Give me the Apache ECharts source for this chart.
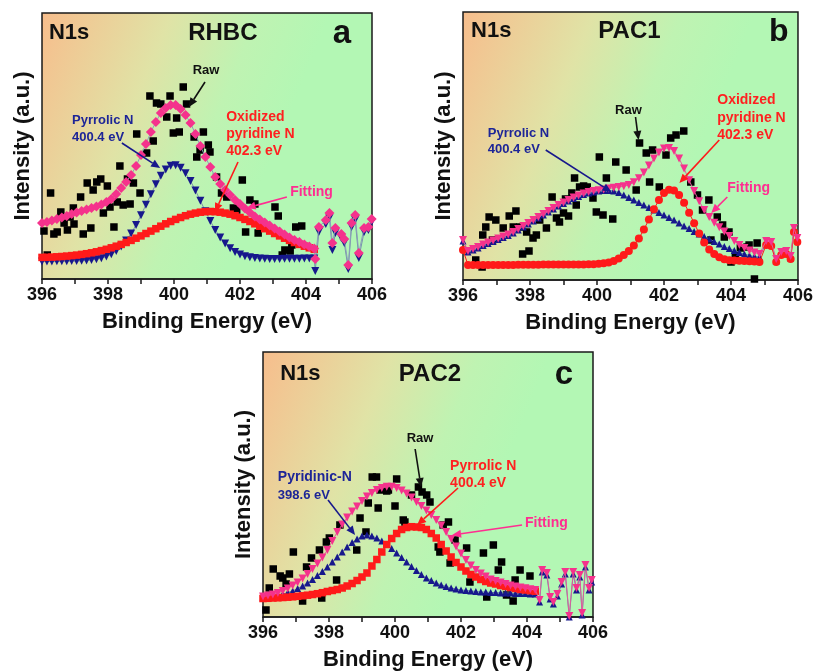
<!DOCTYPE html>
<html>
<head>
<meta charset="utf-8">
<title>N1s XPS spectra – RHBC, PAC1, PAC2</title>
<script src="https://cdn.jsdelivr.net/npm/echarts@6/dist/echarts.min.js"></script>
<style>
  html, body { margin: 0; padding: 0; background: #ffffff; }
  #main { width: 816px; height: 672px; }
</style>
</head>
<body>
<div id="main"></div>
<script>
// ---------------- data ----------------
const tickLabels = ['396', '398', '400', '402', '404', '406'];

// binding energy grid (eV) used by the fitted curves
const fitEnergy = [396.00,396.15,396.30,396.45,396.60,396.75,396.90,397.05,397.20,397.35,397.50,397.65,397.80,397.95,398.10,398.25,398.40,398.55,398.70,398.85,399.00,399.15,399.30,399.45,399.60,399.75,399.90,400.05,400.20,400.35,400.50,400.65,400.80,400.95,401.10,401.25,401.40,401.55,401.70,401.85,402.00,402.15,402.30,402.45,402.60,402.75,402.90,403.05,403.20,403.35,403.50,403.65,403.80,403.95,404.10,404.25,404.40,404.55,404.70,404.85];

// (a) RHBC
const aRawEnergy = [396.06,396.16,396.26,396.36,396.46,396.57,396.67,396.77,396.85,396.95,396.97,397.17,397.25,397.37,397.48,397.55,397.66,397.78,397.86,397.98,398.06,398.18,398.28,398.36,398.46,398.59,398.67,398.77,398.87,398.97,399.17,399.27,399.37,399.47,399.60,399.78,399.88,399.98,400.08,400.16,400.28,400.38,400.61,400.69,400.79,400.89,401.04,401.09,401.29,401.44,401.60,401.80,401.90,402.07,402.17,402.30,402.45,402.55,403.06,403.16,403.28,403.36,403.52,403.57,403.69,403.87];
const aRawCounts = [48,24,86,45,47,67,56,49,62,71,55,82,45,96,51,89,97,100,66,93,72,52,77,113,74,100,75,96,145,86,126,183,138,176,175,162,183,146,161,147,192,175,142,122,129,147,134,127,102,86,82,71,69,99,47,79,75,46,72,63,24,29,28,34,52,53];
const aPyrrolic = [17.5,17.6,17.6,17.7,17.7,17.8,17.9,17.9,18.2,18.5,19.0,19.7,20.8,22.4,24.8,28.1,32.6,38.4,45.5,54.1,63.8,74.2,84.7,94.7,103.2,109.6,113.2,113.8,111.2,105.8,98.0,88.6,78.2,67.8,58.1,49.1,41.6,35.5,30.7,27.0,24.5,22.7,21.7,20.9,20.5,20.3,20.1,20.1,20.1,20.2,20.2,20.3,20.3,20.4,20.5,20.5];
const aOxidized = [21.6,21.7,21.9,22.2,22.5,22.9,23.4,23.9,24.6,25.3,26.2,27.2,28.4,29.7,31.2,32.8,34.6,36.5,38.6,40.8,43.1,45.5,47.9,50.3,52.8,55.2,57.5,59.6,61.5,63.3,64.8,65.9,66.8,67.3,67.5,67.3,66.8,65.9,64.8,63.3,61.5,59.6,57.5,55.2,52.8,50.3,47.9,45.5,43.1,40.8,38.6,36.5,34.6,32.8,31.2,29.7];
const aFit = [56,57,58.5,60,61.5,63,65,66.5,68,69.5,71,72.5,74.5,77,80,85,91,97,104,113,124,135,147,157,166,171,174,174,170,164,156,145,133,122,112,102,95,89,84,79,75,70.5,66.5,62.5,59.5,56.5,53.5,50.5,47.5,44.5,41.5,39,37,34.5,32.5,30.5];
const aTailEnergy = [404.28,404.39,404.60,404.71,404.80,404.89,405.07,405.16,405.28,405.38,405.49,405.60,405.76,405.89,405.99];
const aTailFit = [20,52,59,66,36,51,45,40,14,56,64,26,51,52,60];
const aTailPyrrolic = [8,47,55,61,29,46,41,36,10,52,59,21,47,49,57];

// (b) PAC1
const bRawEnergy = [396.38,396.57,396.59,396.68,396.78,396.88,396.98,397.20,397.38,397.50,397.58,397.70,397.78,397.90,397.97,398.09,398.19,398.29,398.49,398.66,398.79,398.88,399.00,399.06,399.15,399.25,399.33,399.38,399.48,399.60,399.71,399.88,399.98,400.07,400.18,400.28,400.47,400.56,400.87,401.17,401.27,401.47,401.57,401.66,401.86,402.06,402.20,402.36,402.59,402.80,403.00,403.15,403.34,403.40,403.59,403.75,403.80,403.94,404.00,404.13,404.28,404.48,404.54,404.70,404.78];
const bRawCounts = [20,13,45,53,63,40,60,52,64,53,69,53,26,48,29,42,45,60,52,83,62,58,67,81,64,87,102,75,93,94,93,82,68,123,65,102,61,118,110,90,137,127,98,130,93,125,142,145,149,98,85,70,80,40,63,55,43,48,18,25,32,33,35,1,37];
const bPyrrolic = [39,28,30,32,34.5,36.5,38.5,40.5,42.5,44.5,47,50,53,56,59,62,65,68,71,74,76.5,79,81.5,83.5,85.5,87,88,89,89.5,89.5,89,87.5,85,82.5,80,77.5,75,72.5,70,67.5,65,62.5,60,57,54,51.5,48.5,46,43.5,41,38.5,36,33.5,31.5,29.5,27.5,26,24.5,23.5,23];
const bOxidized = [30,15,15,15,15,15,15,15,15,15,15,15.2,15.2,15.3,15.3,15.3,15.4,15.4,15.4,15.5,15.5,15.5,15.5,15.5,15.6,15.7,15.8,16.2,16.7,17.5,19,21.5,25,29,34.5,41.5,50.5,60.5,70.8,80.1,86.9,90.3,89.6,85,77.2,67.3,56.8,46.5,37.6,30.4,26,22.8,20.8,19.8,19.5,19.2,19,18.8,18.5,18];
const bFit = [40,29,31,33,35.5,37.5,39.5,41.5,43.5,45.5,48,51,54,57,60,63,66,69,72,75,77.5,80,82.5,84.5,86.5,88,89,89.7,90.6,91.4,92.3,93,93.8,95,97.7,101.7,107.6,114.4,121.4,127.6,131.4,132.1,128.9,121.6,111.4,99.7,88.9,78.8,70.1,62.9,57.3,52.8,48.4,44,39,35,32,29.5,27.5,26];
const bTailEnergy = [405.05,405.20,405.35,405.50,405.65,405.78,405.88,405.98];
const bTailFit = [39,38,21,28,29,24,52,42];
const bTailPyrrolic = [37,36,19,26,27,22,50,40];
const bTailOxidized = [35,34,18,25,26,21,48,38];

// (c) PAC2
const cRawEnergy = [396.09,396.19,396.31,396.52,396.60,396.70,396.80,396.92,397.20,397.32,397.47,397.71,397.78,397.92,398.01,398.23,398.33,398.84,398.94,399.12,399.19,399.31,399.44,399.49,399.55,399.75,399.80,400.00,400.05,400.25,400.30,400.50,400.71,400.82,400.96,401.06,401.31,401.36,401.46,401.62,401.67,401.82,402.17,402.27,402.68,402.78,402.98,403.13,403.23,403.38,403.58,403.64,403.79,404.09];
const cRawCounts = [7,29,48,41,39,33,43,65,16,50,59,67,19,75,79,37,92,67,99,85,114,140,140,109,127,126,127,111,138,97,95,122,130,125,122,115,70,65,92,95,54,77,69,35,64,20,72,47,55,22,16,37,47,41];
const cPyridinic = [20,20.5,21,22,23,24.5,26,28.5,31,34,37.5,41.5,45.5,50,55,60,65,70,74.5,78,81,82,81,79,76,72.5,68.5,64,59.5,55,50.5,46.5,42.5,39,36.5,34,32,30.5,29,28,27,26.5,26,25.5,25,25,24.5,24.5,24,24,24,23.5,23.5,23.5,23,23];
const cPyrrolic = [18.5,18.7,19,19.2,19.5,19.8,20.2,20.7,21.2,21.8,22.5,23.3,24.3,25.5,26.5,27.5,29,31,33.5,36.5,40,44,51,57.5,65,72.5,78.5,83.5,87.5,89.5,90.3,90,89.5,87.5,83.5,79,72.5,66,60,54.5,50,46,42.5,40,37.5,35.5,34,33,31.5,30.5,29.5,28.5,27.5,27,26.3,25.8];
const cFit = [20.5,21.5,22.5,24,26,28.5,31.5,34.5,38.5,43,48,53.5,59.5,67,76,85,92.5,99.5,105.5,110.5,116,120.5,124,127,129,130.3,130.3,129,126.5,123.5,119.5,115,111,106.5,102,97,91.5,85,78,70.5,63.5,57,51.5,47,43.5,40.5,37.5,36,34.5,33,31.5,30.5,29.5,28.7,27.8,27];
const cTailEnergy = [404.38,404.46,404.60,404.70,404.80,404.92,405.05,405.16,405.28,405.40,405.50,405.60,405.67,405.77,405.88,405.96];
const cTailFit = [17,47,44,20,15,23,35,45,1,45,29,42,4,52,29,37];
const cTailPyridinic = [15,45,42,18,13,21,33,43,0,43,27,40,2,50,27,35];

// ---------------- styling / layout ----------------
const FONT = '"Liberation Sans", Arial, Helvetica, sans-serif';
const PINK = '#f5328c';
const NAVY = '#17188c';
const RED = '#ff1a1a';
const TXT_BLUE = '#1d2597';
const TXT_RED = '#ff2020';
const TXT_PINK = '#ff2d91';

const grids = [
  { left: 42, top: 13, width: 330, height: 266 },
  { left: 463, top: 12, width: 336, height: 268 },
  { left: 263, top: 352, width: 330, height: 265 }
];

function zip(xs, ys) { return ys.map((y, i) => [xs[i], y]); }

function bgGradient() {
  return new echarts.graphic.LinearGradient(0, 0, 0.75, 0.38, [
    { offset: 0, color: '#f7bd8c' },
    { offset: 0.45, color: '#e0e3a6' },
    { offset: 0.75, color: '#bff3b2' },
    { offset: 1, color: '#b3f7b4' }
  ]);
}

const option = {
  backgroundColor: '#ffffff',
  animation: false,
  grid: grids.map(g => Object.assign({
    show: true, backgroundColor: bgGradient(),
    borderColor: '#1a1a1a', borderWidth: 1.5
  }, g)),
  xAxis: grids.map((g, i) => ({
    type: 'value', gridIndex: i, min: 396, max: 406, interval: 1,
    name: 'Binding Energy (eV)', nameLocation: 'middle', nameGap: 32,
    nameTextStyle: { fontFamily: FONT, fontSize: 22, fontWeight: 'bold', color: '#111' },
    axisLine: { show: true, lineStyle: { color: '#1a1a1a', width: 1.5 } },
    axisTick: { show: true, length: 5, lineStyle: { color: '#1a1a1a', width: 1.5 } },
    axisLabel: {
      margin: 7, fontFamily: FONT, fontSize: 18, fontWeight: 'bold', color: '#111',
      formatter: v => { const s = String(Math.round(v)); return tickLabels.includes(s) ? s : ''; }
    },
    splitLine: { show: false }
  })),
  yAxis: grids.map((g, i) => ({
    type: 'value', gridIndex: i, min: 0, max: g.height,
    name: 'Intensity (a.u.)', nameLocation: 'middle', nameGap: 8, nameRotate: 90,
    nameTextStyle: { fontFamily: FONT, fontSize: 22, fontWeight: 'bold', color: '#111' },
    axisLine: { show: false }, axisTick: { show: false },
    axisLabel: { show: false }, splitLine: { show: false }
  })),
  series: []
};

function rawSeries(p, xs, ys) {
  return {
    type: 'scatter', xAxisIndex: p, yAxisIndex: p, data: zip(xs, ys),
    symbol: 'rect', symbolSize: 7.5, itemStyle: { color: '#000', opacity: 1 }, z: 2, silent: true
  };
}
function curveSeries(p, data, symbol, size, color, rotate, lineColor, z) {
  return {
    type: 'line', xAxisIndex: p, yAxisIndex: p, data: data,
    symbol: symbol, symbolSize: size, symbolRotate: rotate || 0,
    showSymbol: true, showAllSymbol: true,
    itemStyle: { color: color, opacity: 1 }, lineStyle: { color: lineColor, width: 1 },
    z: z, silent: true
  };
}

// (a)
option.series.push(rawSeries(0, aRawEnergy, aRawCounts));
option.series.push(curveSeries(0, zip(fitEnergy, aPyrrolic).concat(zip(aTailEnergy, aTailPyrrolic)), 'triangle', 8, NAVY, 180, '#7890ad', 3));
option.series.push(curveSeries(0, zip(fitEnergy, aOxidized), 'rect', 7.5, RED, 0, RED, 4));
option.series.push(curveSeries(0, zip(fitEnergy, aFit).concat(zip(aTailEnergy, aTailFit)), 'diamond', 10, PINK, 0, '#8aa0b8', 5));
// (b)
option.series.push(rawSeries(1, bRawEnergy, bRawCounts));
option.series.push(curveSeries(1, zip(fitEnergy, bPyrrolic).concat(zip(bTailEnergy, bTailPyrrolic)), 'triangle', 7, NAVY, 0, '#6a7fb0', 3));
option.series.push(curveSeries(1, zip(fitEnergy, bOxidized).concat(zip(bTailEnergy, bTailOxidized)), 'circle', 8, RED, 0, RED, 4));
option.series.push(curveSeries(1, zip(fitEnergy, bFit).concat(zip(bTailEnergy, bTailFit)), 'triangle', 8, PINK, 180, '#e0609a', 5));
// (c)
option.series.push(rawSeries(2, cRawEnergy, cRawCounts));
option.series.push(curveSeries(2, zip(fitEnergy, cPyridinic).concat(zip(cTailEnergy, cTailPyridinic)), 'triangle', 7, NAVY, 0, '#6a7fb0', 3));
option.series.push(curveSeries(2, zip(fitEnergy, cPyrrolic), 'rect', 7.5, RED, 0, RED, 4));
option.series.push(curveSeries(2, zip(fitEnergy, cFit).concat(zip(cTailEnergy, cTailFit)), 'triangle', 8, PINK, 180, '#e0609a', 5));

const chart = echarts.init(document.getElementById('main'), null, { renderer: 'canvas' });
chart.setOption(option);

// ---------------- annotations (placed in each panel's data space) ----------------
function px(p, x, y) { return chart.convertToPixel({ xAxisIndex: p, yAxisIndex: p }, [x, y]); }

function label(p, text, x, y, color, size, align) {
  const c = px(p, x, y);
  return {
    type: 'text', z: 100, silent: true,
    style: {
      text: text, x: c[0], y: c[1], fill: color,
      font: 'bold ' + size + 'px ' + FONT,
      align: align, verticalAlign: 'middle',
      textAlign: align, textVerticalAlign: 'middle'
    }
  };
}
function arrow(p, from, to, color) {
  const a = px(p, from[0], from[1]);
  const b = px(p, to[0], to[1]);
  const ang = Math.atan2(b[1] - a[1], b[0] - a[0]);
  const L = 9, W = 4;
  const base = [b[0] - L * Math.cos(ang), b[1] - L * Math.sin(ang)];
  const l = [base[0] + W * Math.sin(ang), base[1] - W * Math.cos(ang)];
  const r = [base[0] - W * Math.sin(ang), base[1] + W * Math.cos(ang)];
  return [
    { type: 'line', z: 100, silent: true, shape: { x1: a[0], y1: a[1], x2: base[0], y2: base[1] }, style: { stroke: color, lineWidth: 1.6 } },
    { type: 'polygon', z: 100, silent: true, shape: { points: [b, l, r] }, style: { fill: color } }
  ];
}

const g = [];
// (a) RHBC
g.push(label(0, 'N1s', 396.21, 246, '#111', 22, 'left'));
g.push(label(0, 'RHBC', 401.48, 246, '#111', 24, 'center'));
g.push(label(0, 'a', 405.09, 245, '#111', 33, 'center'));
g.push(label(0, 'Raw', 400.97, 209, '#111', 13, 'center'));
g.push(label(0, 'Pyrrolic N', 396.91, 159, TXT_BLUE, 13, 'left'));
g.push(label(0, '400.4 eV', 396.91, 142, TXT_BLUE, 13, 'left'));
g.push(label(0, 'Oxidized', 401.58, 162, TXT_RED, 14, 'left'));
g.push(label(0, 'pyridine N', 401.58, 145, TXT_RED, 14, 'left'));
g.push(label(0, '402.3 eV', 401.58, 128, TXT_RED, 14, 'left'));
g.push(label(0, 'Fitting', 403.52, 87, TXT_PINK, 14, 'left'));
g.push(...arrow(0, [400.94, 197], [400.45, 172], '#111'));
g.push(...arrow(0, [398.42, 136], [399.58, 111], NAVY));
g.push(...arrow(0, [401.94, 117], [401.24, 67], RED));
g.push(...arrow(0, [403.42, 82], [402.2, 71], TXT_PINK));
// (b) PAC1
g.push(label(1, 'N1s', 396.24, 249, '#111', 22, 'left'));
g.push(label(1, 'PAC1', 400.97, 249, '#111', 24, 'center'));
g.push(label(1, 'b', 405.43, 248, '#111', 32, 'center'));
g.push(label(1, 'Raw', 400.94, 170, '#111', 13, 'center'));
g.push(label(1, 'Pyrrolic N', 396.74, 147, TXT_BLUE, 13, 'left'));
g.push(label(1, '400.4 eV', 396.74, 131, TXT_BLUE, 13, 'left'));
g.push(label(1, 'Oxidized', 403.59, 180, TXT_RED, 14, 'left'));
g.push(label(1, 'pyridine N', 403.59, 162, TXT_RED, 14, 'left'));
g.push(label(1, '402.3 eV', 403.59, 145, TXT_RED, 14, 'left'));
g.push(label(1, 'Fitting', 403.89, 92, TXT_PINK, 14, 'left'));
g.push(...arrow(1, [401.15, 163], [401.24, 140], '#111'));
g.push(...arrow(1, [398.47, 130], [400.43, 88], NAVY));
g.push(...arrow(1, [403.65, 140], [402.46, 97], RED));
g.push(...arrow(1, [403.89, 83], [403.41, 67], TXT_PINK));
// (c) PAC2
g.push(label(2, 'N1s', 396.52, 243, '#111', 22, 'left'));
g.push(label(2, 'PAC2', 401.06, 243, '#111', 24, 'center'));
g.push(label(2, 'c', 405.12, 242, '#111', 33, 'center'));
g.push(label(2, 'Raw', 400.76, 179, '#111', 13, 'center'));
g.push(label(2, 'Pyridinic-N', 396.45, 140, TXT_BLUE, 14, 'left'));
g.push(label(2, '398.6 eV', 396.45, 122, TXT_BLUE, 13, 'left'));
g.push(label(2, 'Pyrrolic N', 401.67, 151, TXT_RED, 14, 'left'));
g.push(label(2, '400.4 eV', 401.67, 134, TXT_RED, 14, 'left'));
g.push(label(2, 'Fitting', 403.94, 94, TXT_PINK, 14, 'left'));
g.push(...arrow(2, [400.61, 168], [400.79, 130], '#111'));
g.push(...arrow(2, [397.97, 117], [398.79, 82], NAVY));
g.push(...arrow(2, [401.91, 129], [400.67, 92], RED));
g.push(...arrow(2, [403.85, 92], [401.73, 82], TXT_PINK));

chart.setOption({ graphic: { elements: g } });
</script>
</body>
</html>
